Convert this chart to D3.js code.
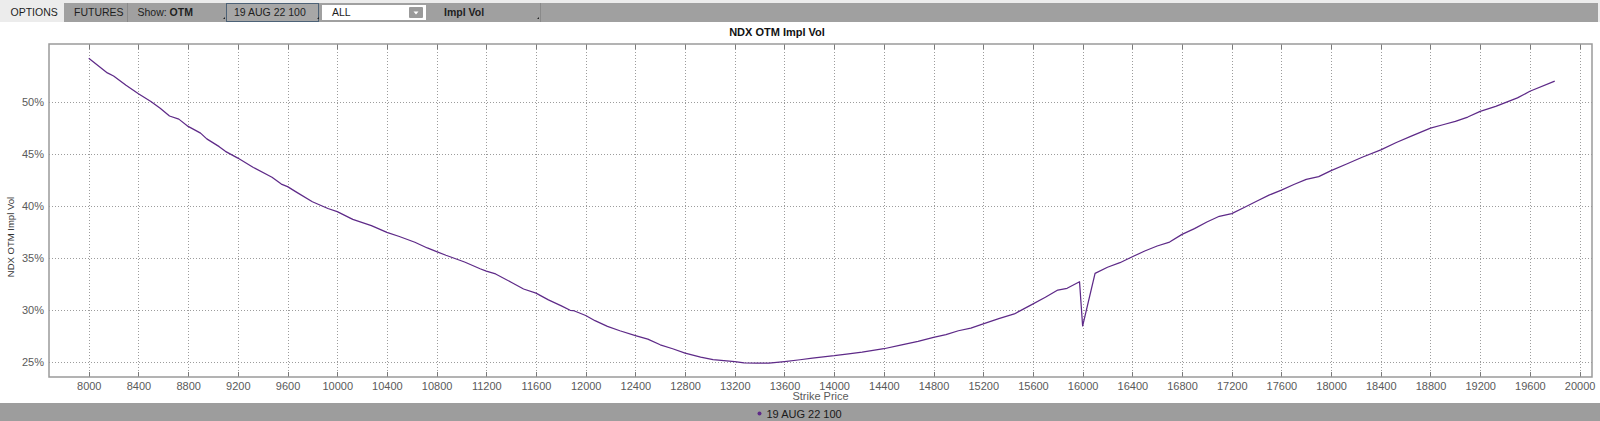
<!DOCTYPE html>
<html lang="en">
<head>
    <meta charset="UTF-8">
    <title>NDX OTM Impl Vol</title>
    <script src="https://d3js.org/d3.v7.min.js"></script>
    <style>
        body {
            margin: 0;
            font-family: "Liberation Sans", Arial, sans-serif;
            background: #fff;
        }
        .grid line {
            stroke: #9c9c9c;
            stroke-dasharray: 1,2;
            shape-rendering: crispEdges;
        }
        .grid path { display: none; }
        .axis path { display: none; }
        .axis line { stroke: #7a7a7a; shape-rendering: crispEdges; }
        .axis text { fill: #5a5a5a; font-size: 11px; }
    </style>
</head>
<body>
<svg id="chart" width="1600" height="421"></svg>

<script>
    // strike prices and implied vol (%)
    const strikes = [8000, 8150, 8200, 8300, 8400, 8500, 8575, 8650, 8725, 8800, 8900, 8950, 9050, 9100, 9200,
        9325, 9475, 9550, 9600, 9675, 9800, 9925, 10000, 10125, 10275, 10400, 10500, 10625, 10725, 10800,
        10875, 11025, 11150, 11200, 11275, 11400, 11500, 11600, 11700, 11800, 11875, 11900, 12000, 12075,
        12175, 12275, 12400, 12500, 12600, 12700, 12800, 12925, 13025, 13200, 13275, 13375, 13475, 13600,
        13725, 13825, 14000, 14100, 14225, 14400, 14525, 14675, 14800, 14900, 15000, 15100, 15200, 15325,
        15450, 15575, 15700, 15800, 15875, 15975, 16000, 16100, 16200, 16300, 16400, 16500, 16600, 16700,
        16800, 16900, 17000, 17100, 17200, 17300, 17400, 17500, 17600, 17700, 17800, 17900, 18000, 18125,
        18250, 18400, 18525, 18650, 18800, 18900, 19000, 19100, 19200, 19325, 19500, 19600, 19800];
    const implVol = [54.2, 52.8, 52.5, 51.6, 50.8, 50.05, 49.4, 48.65, 48.35, 47.65, 47.0, 46.45, 45.7, 45.25, 44.6,
        43.7, 42.75, 42.1, 41.85, 41.3, 40.4, 39.75, 39.45, 38.7, 38.1, 37.45, 37.05, 36.5, 35.95, 35.6,
        35.25, 34.6, 33.95, 33.72, 33.45, 32.65, 32.0, 31.6, 30.95, 30.4, 29.95, 29.93, 29.45, 28.95,
        28.4, 27.98, 27.52, 27.18, 26.63, 26.25, 25.83, 25.45, 25.2, 25.0, 24.88, 24.87, 24.87, 25.02,
        25.19, 25.35, 25.58, 25.74, 25.93, 26.25, 26.57, 26.96, 27.34, 27.6, 27.98, 28.24, 28.65, 29.15,
        29.6, 30.4, 31.2, 31.9, 32.07, 32.7, 28.44, 33.5, 34.09, 34.53, 35.1, 35.66, 36.14, 36.52,
        37.26, 37.81, 38.45, 39.0, 39.26, 39.84, 40.45, 41.03, 41.52, 42.06, 42.55, 42.81, 43.39, 44.03,
        44.68, 45.39, 46.1, 46.74, 47.48, 47.81, 48.13, 48.55, 49.1, 49.58, 50.39, 51.03, 52.0];

    const xTicks = d3.range(8000, 20001, 400);
    const yTicks = [25, 30, 35, 40, 45, 50];
    const seriesName = "19 AUG 22 100";
    const chartTitle = "NDX OTM Impl Vol";
    const toolbarItems = ["OPTIONS", "FUTURES", "Show:", "19 AUG 22 100", "ALL", "Impl Vol"];

    const data = strikes.map((s, i) => ({ strike: s, vol: implVol[i] }));

    const svg = d3.select("#chart");
    const W = 1600, H = 421;
    const margin = { top: 44, right: 8, bottom: 44, left: 49 };
    const plotW = W - margin.left - margin.right;
    const plotH = H - margin.top - margin.bottom;

    const lineColor = "#5e2a88";

    // toolbar at the top
    const bar = svg.append("g");
    bar.append("rect").attr("x", 0).attr("y", 0).attr("width", W).attr("height", 22).attr("fill", "#ececec");
    bar.append("rect").attr("x", 64).attr("y", 3).attr("width", W - 66).attr("height", 19).attr("fill", "#a0a0a0");
    bar.append("rect").attr("x", 226.5).attr("y", 3.5).attr("width", 92).attr("height", 18)
        .attr("fill", "#a7a7a7").attr("stroke", "#4d6277").attr("stroke-width", 1);
    bar.append("rect").attr("x", 322).attr("y", 5).attr("width", 104).attr("height", 15).attr("fill", "#fff");
    bar.append("rect").attr("x", 409).attr("y", 7).attr("width", 14).attr("height", 11).attr("fill", "#9a9a9a").attr("rx", 1);
    bar.append("path").attr("d", "M413.5,11.5 L418.5,11.5 L416,14.5 Z").attr("fill", "#fff");
    [127, 540].forEach(xx => {
        bar.append("line").attr("x1", xx + 0.5).attr("x2", xx + 0.5).attr("y1", 3).attr("y2", 22)
            .attr("stroke", "#8a8a8a");
    });
    [223, 317, 537].forEach(xx => {
        bar.append("path").attr("d", `M${xx},19 L${xx + 2},19 L${xx + 2},17 Z`).attr("fill", "#222");
    });
    const tbText = (x, t, bold) => bar.append("text").attr("x", x).attr("y", 16)
        .attr("font-size", "10.5px").attr("fill", "#1e1e1e")
        .attr("font-weight", bold ? "bold" : "normal").text(t);
    tbText(10.5, toolbarItems[0]);
    tbText(74, toolbarItems[1]);
    const showT = tbText(137.5, toolbarItems[2]);
    showT.append("tspan").attr("font-weight", "bold").text(" OTM");
    tbText(234, toolbarItems[3]);
    tbText(332, toolbarItems[4]);
    tbText(444, toolbarItems[5], true);

    // legend bar at the bottom
    svg.append("rect").attr("x", 0).attr("y", 403).attr("width", W).attr("height", 18).attr("fill", "#9d9d9d");
    svg.append("circle").attr("cx", 759.5).attr("cy", 413.5).attr("r", 2).attr("fill", lineColor);
    svg.append("text").attr("x", 766.5).attr("y", 417.5).attr("font-size", "11px").attr("fill", "#1a1a1a")
        .text(seriesName);

    // title
    svg.append("text").attr("x", 777).attr("y", 36).attr("text-anchor", "middle")
        .attr("font-size", "11px").attr("font-weight", "bold").attr("fill", "#111")
        .text(chartTitle);

    const g = svg.append("g").attr("transform", `translate(${margin.left},${margin.top})`);

    const x = d3.scaleLinear().domain([7680, 20100]).range([0, plotW]);
    const y = d3.scaleLinear().domain([23.53, 55.58]).range([plotH, 0]);

    // grid
    g.append("g").attr("class", "grid")
        .attr("transform", `translate(0,${plotH})`)
        .call(d3.axisBottom(x).tickValues(xTicks).tickSize(-plotH).tickFormat(""));
    g.append("g").attr("class", "grid")
        .call(d3.axisLeft(y).tickValues(yTicks).tickSize(-plotW).tickFormat(""));

    // x axis ticks (inside) and labels
    g.append("g").attr("class", "axis")
        .attr("transform", `translate(0,${plotH})`)
        .call(d3.axisBottom(x).tickValues(xTicks).tickSizeInner(-5).tickSizeOuter(0).tickPadding(5)
            .tickFormat(d3.format("d")));
    g.append("g").attr("class", "axis")
        .call(d3.axisTop(x).tickValues(xTicks).tickSizeInner(-5).tickSizeOuter(0).tickFormat(""));

    // y labels
    g.append("g").attr("class", "axis")
        .call(d3.axisLeft(y).tickValues(yTicks).tickSize(0).tickPadding(5).tickFormat(d => d + "%"));

    // frame
    g.append("rect").attr("x", 0).attr("y", 0).attr("width", plotW).attr("height", plotH)
        .attr("fill", "none").attr("stroke", "#9a9a9a").attr("stroke-width", 1.5);

    // axis titles
    g.append("text").attr("x", plotW / 2).attr("y", plotH + 23).attr("text-anchor", "middle")
        .attr("font-size", "11px").attr("fill", "#5a5a5a").text("Strike Price");
    svg.append("text").attr("transform", "translate(14,237) rotate(-90)").attr("text-anchor", "middle")
        .attr("font-size", "9.5px").attr("fill", "#333").text(chartTitle);

    // the curve
    const line = d3.line().x(d => x(d.strike)).y(d => y(d.vol));
    g.append("path").datum(data)
        .attr("fill", "none").attr("stroke", lineColor).attr("stroke-width", 1.25)
        .attr("stroke-linejoin", "round").attr("d", line);
</script>
</body>
</html>
